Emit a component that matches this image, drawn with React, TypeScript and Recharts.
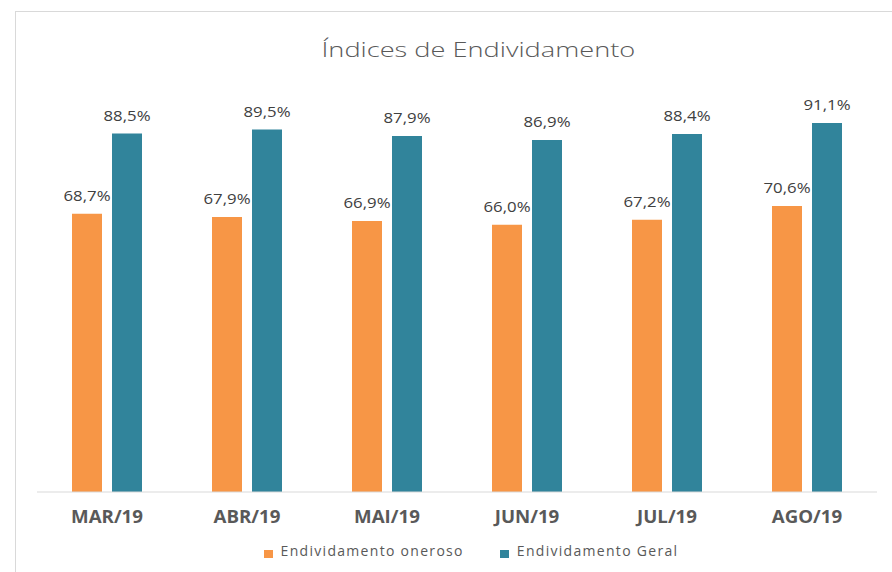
import React from 'react';
import { BarChart, Bar, XAxis, YAxis, LabelList, Legend } from 'recharts';

const categories = ['MAR/19', 'ABR/19', 'MAI/19', 'JUN/19', 'JUL/19', 'AGO/19'];
const oneroso = [68.7, 67.9, 66.9, 66.0, 67.2, 70.6];
const geral = [88.5, 89.5, 87.9, 86.9, 88.4, 91.1];
const seriesNames = ['Endividamento oneroso', 'Endividamento Geral'];
const colors = ['#F79646', '#31849B'];
const title = 'Índices de Endividamento';

const data = categories.map((c, i) => ({ cat: c, oneroso: oneroso[i], geral: geral[i] }));

const FONT = '"Open Sans", "Liberation Sans", sans-serif';

const fmt = (v: any) => `${Number(v).toFixed(1).replace('.', ',')}%`;

const Tick = (props: any) => {
  const { x, y, payload } = props;
  return (
    <text transform={`translate(${x},${y + 23}) scale(1.1,1)`} x={0} y={0} textAnchor="middle" fill="#595959" fontFamily={FONT} fontSize={17} fontWeight={700}>
      {payload.value}
    </text>
  );
};

const BarLabel = (props: any) => {
  const { x, y, width, value } = props;
  const cx = Number(x) + Number(width) / 2;
  const by = Number(y) - 13;
  return (
    <text transform={`translate(${cx},${by}) scale(1.2,1)`} x={0} y={0} textAnchor="middle" fill="#404040" fontFamily={FONT} fontSize={14}>
      {fmt(value)}
    </text>
  );
};

const LegendContent = () => (
  <div style={{ display: 'flex', justifyContent: 'center', fontFamily: FONT, fontSize: 14, color: '#595959', letterSpacing: 1.3, lineHeight: '19px' }}>
    {seriesNames.map((n, i) => (
      <div key={n} style={{ display: 'flex', alignItems: 'center', marginLeft: i ? 36 : 0 }}>
        <span style={{ display: 'inline-block', width: 9, height: 8, marginTop: 6, background: colors[i], marginRight: 8 }} />
        <span>{n}</span>
      </div>
    ))}
  </div>
);

export default function App() {
  return (
    <div style={{ position: 'fixed', left: 0, top: 0, width: 892, height: 572, background: '#fff', overflow: 'hidden' }}>
      <div style={{ position: 'absolute', left: 15, top: 11, width: 960, height: 640, border: '1px solid #d9d9d9', boxSizing: 'border-box' }} />
      <div style={{ position: 'absolute', left: 0, top: 36, width: 957, textAlign: 'center', fontFamily: FONT, fontSize: 20, fontWeight: 300, lineHeight: 'normal', color: '#595959' }}>
        <span style={{ display: 'inline-block', transform: 'scaleX(1.36)', transformOrigin: 'center' }}>{title}</span>
      </div>
      <div style={{ position: 'absolute', left: 0, top: 0 }}>
        <BarChart width={892} height={572} data={data} margin={{ top: 87, right: 15, left: 37, bottom: 50 }} barCategoryGap={35} barGap={10}>
          <XAxis dataKey="cat" axisLine={{ stroke: '#d9d9d9' }} tickLine={false} tick={<Tick />} height={30} interval={0} />
          <YAxis hide domain={[0, 100]} />
          <Legend layout="horizontal" verticalAlign="middle" align="center" content={<LegendContent />} wrapperStyle={{ position: 'absolute', top: 541, left: 0, width: 942 }} />
          <Bar dataKey="oneroso" name={seriesNames[0]} fill={colors[0]} isAnimationActive={false} barSize={30}>
            <LabelList dataKey="oneroso" content={<BarLabel />} />
          </Bar>
          <Bar dataKey="geral" name={seriesNames[1]} fill={colors[1]} isAnimationActive={false} barSize={30}>
            <LabelList dataKey="geral" content={<BarLabel />} />
          </Bar>
        </BarChart>
      </div>
    </div>
  );
}
